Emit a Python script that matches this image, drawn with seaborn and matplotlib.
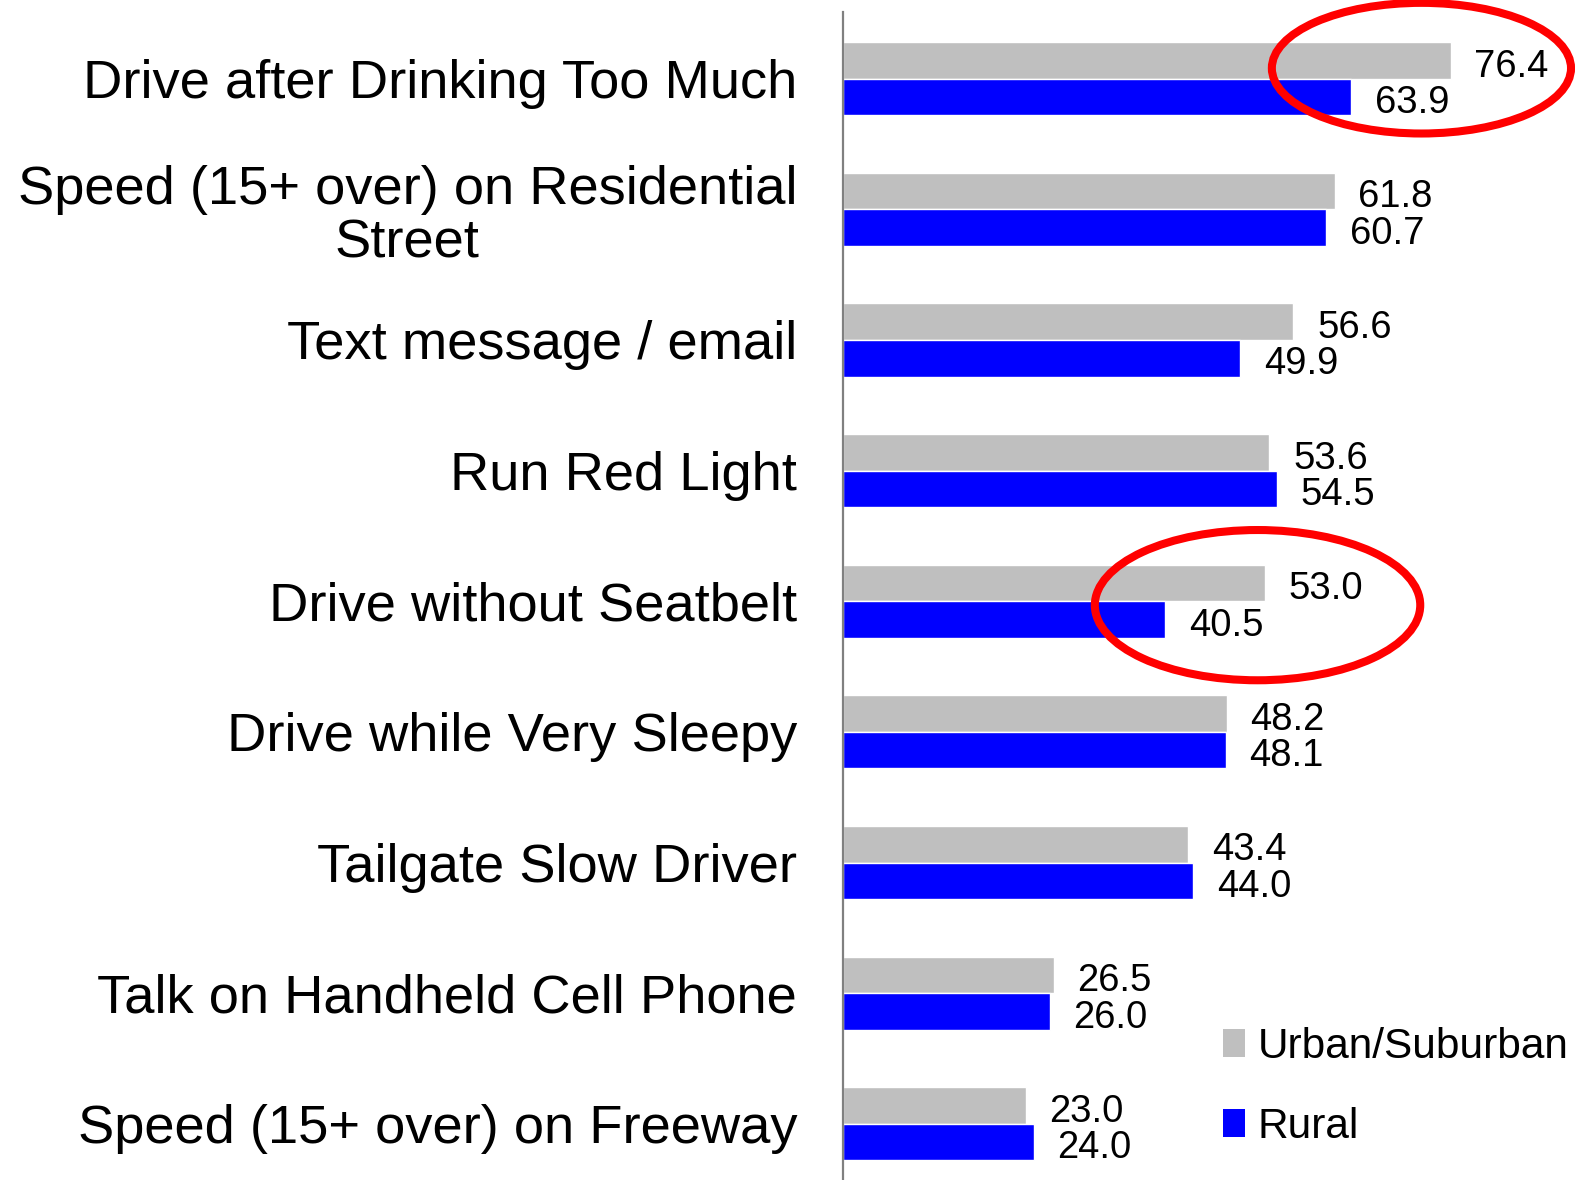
import matplotlib
matplotlib.use("Agg")
import matplotlib.pyplot as plt
from matplotlib.patches import Ellipse, Patch
import pandas as pd
import seaborn as sns

categories = [
    "Drive after Drinking Too Much",
    "Speed (15+ over) on Residential\nStreet",
    "Text message / email",
    "Run Red Light",
    "Drive without Seatbelt",
    "Drive while Very Sleepy",
    "Tailgate Slow Driver",
    "Talk on Handheld Cell Phone",
    "Speed (15+ over) on Freeway",
]
urban = [76.4, 61.8, 56.6, 53.6, 53.0, 48.2, 43.4, 26.5, 23.0]
rural = [63.9, 60.7, 49.9, 54.5, 40.5, 48.1, 44.0, 26.0, 24.0]
groups = ["Urban/Suburban", "Rural"]
colors = ["#bfbfbf", "#0000ff"]

df = pd.DataFrame({
    "behavior": categories * 2,
    "pct": urban + rural,
    "area": [groups[0]] * len(urban) + [groups[1]] * len(rural),
})

sns.set_style("white")
plt.rcParams["font.family"] = ["Liberation Sans", "DejaVu Sans"]
plt.rcParams["text.color"] = "black"

fig = plt.figure(figsize=(15.75, 11.8), dpi=100)
ax = fig.add_axes([843 / 1575, 0.0, 1 - 843 / 1575, 1 - 12 / 1180])

sns.barplot(data=df, y="behavior", x="pct", hue="area", order=categories,
            hue_order=groups, palette=colors, orient="h", width=0.56,
            gap=0, saturation=1, legend=False, ax=ax)

for cont in ax.containers:
    anns = ax.bar_label(cont, fmt="%.1f", padding=17, fontsize=27.5, color="black")
    for a in anns:
        a.xyann = (17, -4.5)

ax.set_xlim(0, 92)
ax.set_ylim(8.43, -0.51)
ax.set_xlabel("")
ax.set_ylabel("")
ax.set_xticks([])
for s in ["top", "right", "bottom"]:
    ax.spines[s].set_visible(False)
ax.spines["left"].set_color("#808080")
ax.spines["left"].set_linewidth(1.6)
ax.tick_params(axis="y", length=0, pad=33, labelsize=39.2, labelcolor="black")
for lab in ax.get_yticklabels():
    lab.set_multialignment("center")
    lab.set_linespacing(1.1)

# red highlight circles
for cx, cy, w, h in [(72.7, -0.08, 37.6, 1.0), (52.1, 4.03, 40.9, 1.15)]:
    ax.add_patch(Ellipse((cx, cy), w, h, fill=False, edgecolor="#ff0000",
                         linewidth=5.8, clip_on=False, zorder=5))

handles = [Patch(facecolor=c, edgecolor="none") for c in colors]
fig.legend(handles, groups, loc="upper left", bbox_to_anchor=(1223 / 1575, 1 - 1027 / 1180),
           frameon=False, fontsize=30.5, labelcolor="black", handlelength=0.52,
           handleheight=0.64, handletextpad=0.3, labelspacing=0.95, borderpad=0,
           borderaxespad=0)

fig.savefig("out.png", dpi=100)
